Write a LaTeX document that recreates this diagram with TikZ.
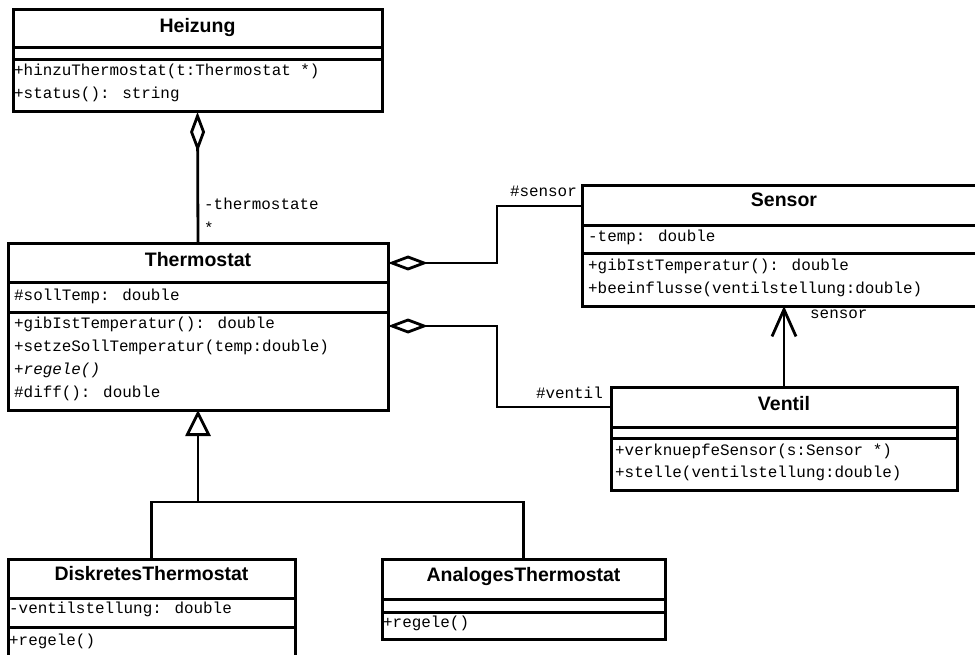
\documentclass[tikz,border=0pt]{standalone}
\usepackage{fontspec}
\usetikzlibrary{arrows.meta,calc}
\newfontfamily\umlsans{Liberation Sans}
\newfontfamily\umlmono{Liberation Mono}
\tikzset{
  classbox/.style={draw, line width=3pt, rectangle, inner sep=0pt, outer sep=0pt, anchor=north west, fill=white},
  sepline/.style={line width=3pt},
  titletext/.style={anchor=base, inner sep=0pt, font=\umlsans\bfseries\fontsize{19.5}{20}\selectfont},
  membertext/.style={anchor=base west, inner sep=0pt, font=\umlmono\fontsize{15.9}{16}\selectfont},
  rolelabel/.style={inner sep=0pt, font=\umlmono\fontsize{15.9}{16}\selectfont},
  conn/.style={line width=2.8pt},
  aggr/.style={conn, -{Diamond[open, fill=white, length=40pt, width=15pt]}},
  nav/.style={conn, -{Straight Barb[length=27pt, width=24pt]}},
  gen/.style={conn, -{Triangle[open, fill=white, length=26pt, width=25pt]}},
}
\begin{document}
\begin{tikzpicture}[x=1pt, y=-1pt]
\useasboundingbox (0,0) rectangle (975,655);

% ---------- Heizung ----------
\node[classbox, minimum width=369pt, minimum height=102pt] (heizung) at (13,10) {};
\draw[sepline] ($(heizung.north west)+(0,38)$) -- ($(heizung.north east)+(0,38)$);
\draw[sepline] ($(heizung.north west)+(0,50)$) -- ($(heizung.north east)+(0,50)$);
\node[titletext] (heizungT) at ($(heizung.north)+(0,23)$) {Heizung};
\node[membertext] (heizungM1) at (14,76) {+hinzuThermostat(t:Thermostat *)};
\node[membertext] (heizungM2) at (14,99) {+status(): string};

% ---------- Thermostat ----------
\node[classbox, minimum width=380pt, minimum height=166pt] (therm) at (8,244) {};
\draw[sepline] ($(therm.north west)+(0,39)$) -- ($(therm.north east)+(0,39)$);
\draw[sepline] ($(therm.north west)+(0,68)$) -- ($(therm.north east)+(0,68)$);
\node[titletext] (thermT) at ($(therm.north)+(0,22)$) {Thermostat};
\node[membertext] (thermA1) at (14,300) {\#sollTemp: double};
\node[membertext] (thermM1) at (14,328) {+gibIstTemperatur(): double};
\node[membertext] (thermM2) at (14,351) {+setzeSollTemperatur(temp:double)};
\node[membertext] (thermM3) at (14,374) {\itshape +regele()};
\node[membertext] (thermM4) at (14,397) {\#diff(): double};

% ---------- Sensor ----------
\node[classbox, minimum width=404pt, minimum height=120pt] (sensor) at (582,186) {};
\draw[sepline] ($(sensor.north west)+(0,40)$) -- ($(sensor.north east)+(0,40)$);
\draw[sepline] ($(sensor.north west)+(0,68)$) -- ($(sensor.north east)+(0,68)$);
\node[titletext] (sensorT) at ($(sensor.north)+(0,21)$) {Sensor};
\node[membertext] (sensorA1) at (588,242) {-temp: double};
\node[membertext] (sensorM1) at (588,271) {+gibIstTemperatur(): double};
\node[membertext] (sensorM2) at (588,294) {+beeinflusse(ventilstellung:double)};

% ---------- Ventil ----------
\node[classbox, minimum width=346pt, minimum height=103pt] (ventil) at (611,387) {};
\draw[sepline] ($(ventil.north west)+(0,40)$) -- ($(ventil.north east)+(0,40)$);
\draw[sepline] ($(ventil.north west)+(0,51)$) -- ($(ventil.north east)+(0,51)$);
\node[titletext] (ventilT) at ($(ventil.north)+(0,23)$) {Ventil};
\node[membertext] (ventilM1) at (615,455) {+verknuepfeSensor(s:Sensor *)};
\node[membertext] (ventilM2) at (615,477) {+stelle(ventilstellung:double)};

% ---------- DiskretesThermostat ----------
\node[classbox, minimum width=287pt, minimum height=110pt] (disk) at (8,559) {};
\draw[sepline] ($(disk.north west)+(0,39)$) -- ($(disk.north east)+(0,39)$);
\draw[sepline] ($(disk.north west)+(0,68)$) -- ($(disk.north east)+(0,68)$);
\node[titletext] (diskT) at ($(disk.north)+(0,21)$) {DiskretesThermostat};
\node[membertext] (diskA1) at (9,613) {-ventilstellung: double};
\node[membertext] (diskM1) at (9,645) {+regele()};

% ---------- AnalogesThermostat ----------
\node[classbox, minimum width=283pt, minimum height=80pt] (analog) at (382,559) {};
\draw[sepline] ($(analog.north west)+(0,40)$) -- ($(analog.north east)+(0,40)$);
\draw[sepline] ($(analog.north west)+(0,53)$) -- ($(analog.north east)+(0,53)$);
\node[titletext] (analogT) at ($(analog.north)+(0,22)$) {AnalogesThermostat};
\node[membertext] (analogM1) at (383,627) {+regele()};

% ---------- connectors ----------
\draw[aggr] (therm.north) -- (heizung.south);
\node[rolelabel, anchor=base west] (lblThermostate) at (204,210) {-thermostate};
\node[rolelabel, anchor=base west] (lblStar) at (204,234) {*};

\draw[aggr] ($(sensor.north west)+(0,20)$) -- (497,206) -- (497,263) -- ($(therm.north east)+(0,19)$);
\node[rolelabel, anchor=base east] (lblSensorRole) at (577,197) {\#sensor};

\draw[aggr] ($(ventil.north west)+(0,20)$) -- (497,407) -- (497,326) -- ($(therm.north east)+(0,82)$);
\node[rolelabel, anchor=base east] (lblVentil) at (603,398) {\#ventil};

\draw[nav] (ventil.north) -- (sensor.south);
\node[rolelabel, anchor=base west] (lblSensor) at (810,318) {sensor};

\coordinate (genjoin) at (198,502);
\draw[conn] (disk.north) -- ++(0,-57) -| (analog.north);
\draw[gen] (genjoin) -- (therm.south);
\end{tikzpicture}
\end{document}
